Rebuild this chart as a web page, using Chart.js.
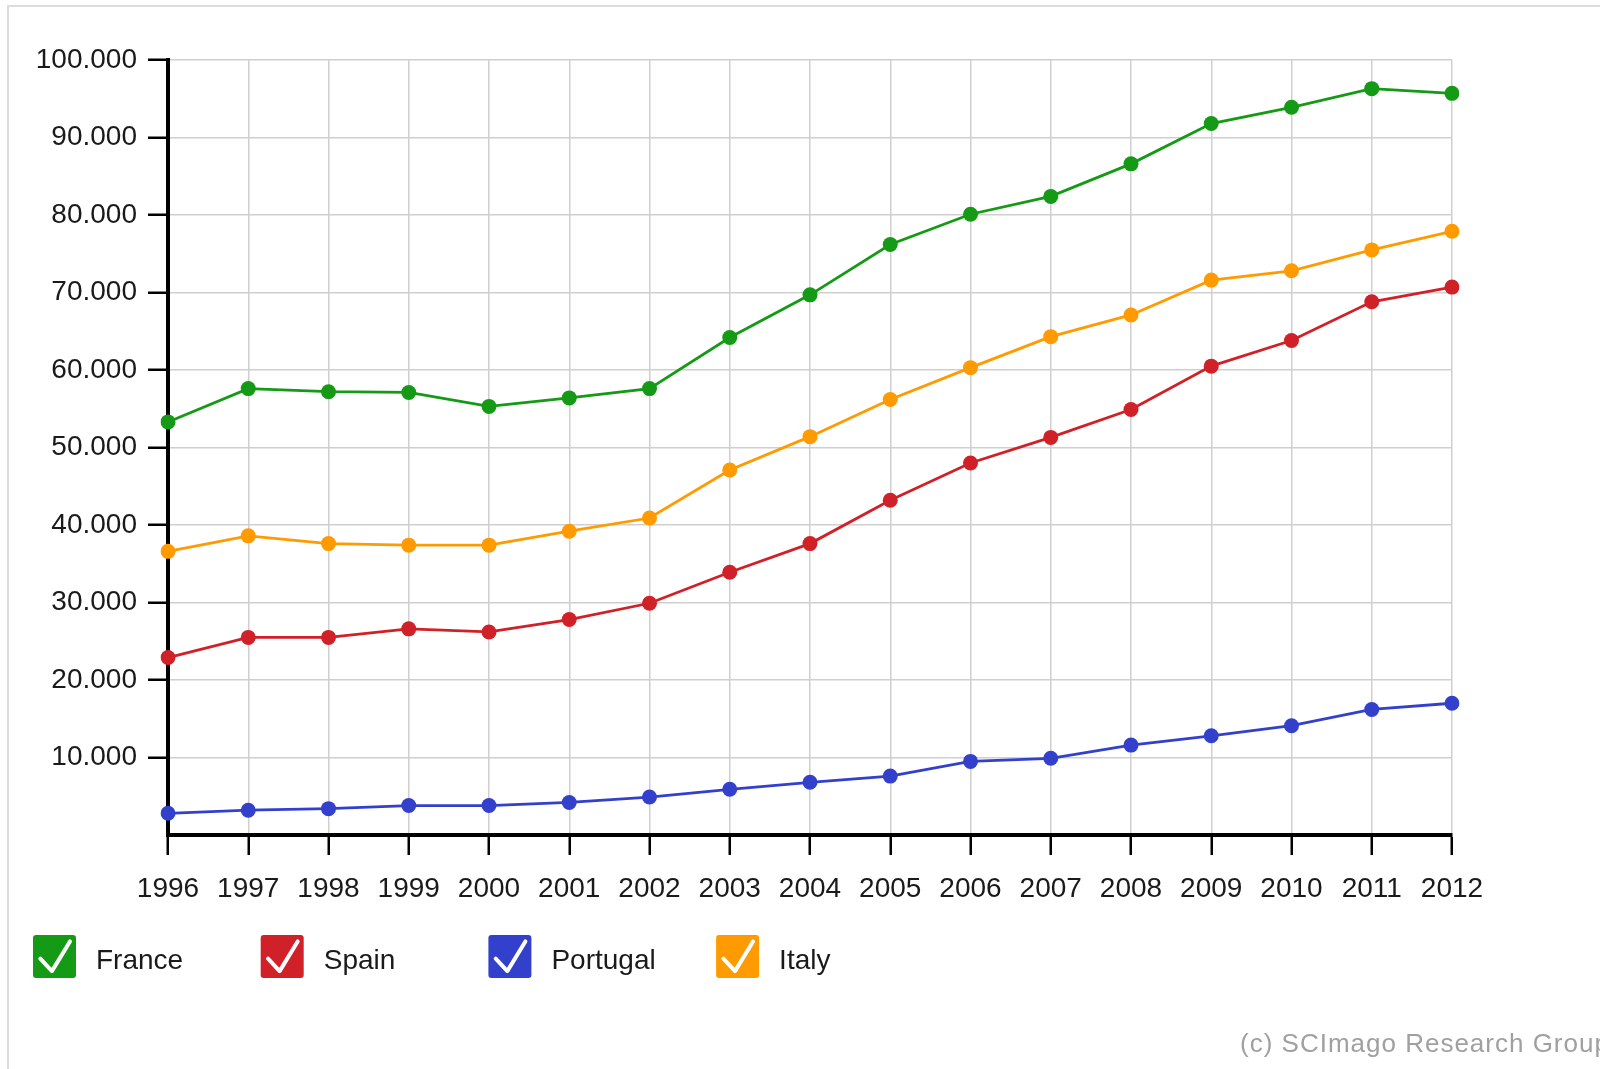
<!DOCTYPE html>
<html>
<head>
<meta charset="utf-8">
<script src="https://cdn.jsdelivr.net/npm/chart.js@4"></script>
<style>
  html, body { margin: 0; padding: 0; background: #fff; overflow: hidden; }
  #wrap { position: relative; width: 1600px; height: 1069px; overflow: hidden; }
  #frame { position: absolute; left: 7px; top: 5px; width: 1700px; height: 1200px;
           border: 2px solid #dcdcdc; box-sizing: border-box; }
  #c { position: absolute; left: 0; top: 0; }
</style>
</head>
<body>
<div id="wrap">
  <div id="frame"></div>
  <canvas id="c" width="1600" height="1069"></canvas>
</div>
<script>
// Documents per year, 1996-2012
const years = ['1996','1997','1998','1999','2000','2001','2002','2003','2004',
               '2005','2006','2007','2008','2009','2010','2011','2012'];

const france   = [53300,57600,57200,57100,55300,56400,57600,64200,69700,76200,80100,82400,86600,91800,93900,96300,95700];
const spain    = [22900,25500,25500,26600,26200,27800,29900,33900,37600,43200,48000,51300,54900,60500,63800,68800,70700];
const portugal = [2800,3200,3400,3800,3800,4200,4900,5900,6800,7600,9500,9900,11600,12800,14100,16200,17000];
const italy    = [36600,38600,37600,37400,37400,39200,40900,47100,51400,56200,60300,64300,67100,71600,72800,75500,77900];

const seriesNames  = ['France', 'Spain', 'Portugal', 'Italy'];
const seriesColors = ['#159a15', '#d02128', '#3340cc', '#ff9a00'];
const seriesData   = [france, spain, portugal, italy];

const yMin = 0, yMax = 100000, yStep = 10000;
const creditText = '(c) SCImago Research Group';

const FONT = '"Liberation Sans", Arial, sans-serif';

// thousands with a dot separator: 10000 -> "10.000"
function fmtThousands(v) {
  return String(Math.round(v)).replace(/\B(?=(\d{3})+(?!\d))/g, '.');
}

// checkbox-style legend and credit line
const checkLegend = {
  id: 'checkLegend',
  afterDraw(chart) {
    const ctx = chart.ctx;
    const box = 43, top = 935, startX = 33, step = 227.7;
    ctx.save();
    chart.data.datasets.forEach((ds, i) => {
      const x = startX + i * step;
      ctx.fillStyle = ds.borderColor;
      ctx.beginPath();
      ctx.roundRect(x, top, box, box, 3);
      ctx.fill();
      ctx.strokeStyle = '#ffffff';
      ctx.lineWidth = 4;
      ctx.lineCap = 'round';
      ctx.lineJoin = 'round';
      ctx.beginPath();
      ctx.moveTo(x + box * 0.17, top + box * 0.55);
      ctx.lineTo(x + box * 0.44, top + box * 0.84);
      ctx.lineTo(x + box * 0.86, top + box * 0.15);
      ctx.stroke();
      ctx.fillStyle = '#1a1a1a';
      ctx.font = '28px ' + FONT;
      ctx.textAlign = 'left';
      ctx.textBaseline = 'middle';
      ctx.fillText(ds.label, x + 63, top + box / 2 + 5);
    });
    ctx.fillStyle = '#a0a0a0';
    ctx.font = '26px ' + FONT;
    ctx.letterSpacing = '1px';
    ctx.textAlign = 'left';
    ctx.textBaseline = 'middle';
    ctx.fillText(creditText, 1240, 1045);
    ctx.restore();
  }
};

new Chart(document.getElementById('c'), {
  type: 'line',
  data: {
    labels: years,
    datasets: seriesData.map((d, i) => ({
      label: seriesNames[i],
      data: d,
      borderColor: seriesColors[i],
      backgroundColor: seriesColors[i],
      borderWidth: 2.8,
      pointRadius: 7.5,
      pointHoverRadius: 7.5,
      pointBorderWidth: 0,
      tension: 0,
      fill: false
    }))
  },
  options: {
    responsive: false,
    animation: false,
    devicePixelRatio: 1,
    layout: { padding: { top: 60, right: 148, left: 0, bottom: 0 } },
    plugins: {
      legend: { display: false },
      tooltip: { enabled: false },
      title: { display: false }
    },
    scales: {
      x: {
        offset: false,
        ticks: { color: '#1a1a1a', font: { family: FONT, size: 28 }, padding: 17,
                 maxRotation: 0, autoSkip: false },
        grid: { color: '#cfcfcf', lineWidth: 1.5, tickLength: 20, tickWidth: 2.5,
                tickColor: '#000' },
        border: { color: '#000', width: 4 },
        afterFit: s => { s.height = 234; }
      },
      y: {
        min: yMin, max: yMax,
        ticks: { stepSize: yStep, color: '#1a1a1a', font: { family: FONT, size: 28 }, padding: 11,
                 callback: v => v === 0 ? '' : fmtThousands(v) },
        grid: { color: '#cfcfcf', lineWidth: 1.5, tickLength: 20, tickWidth: 2.5,
                tickColor: c => (c.tick && c.tick.value === 0) ? 'rgba(0,0,0,0)' : '#000' },
        border: { color: '#000', width: 4 },
        afterFit: s => { s.width = 168; }
      }
    }
  },
  plugins: [checkLegend]
});
</script>
</body>
</html>
